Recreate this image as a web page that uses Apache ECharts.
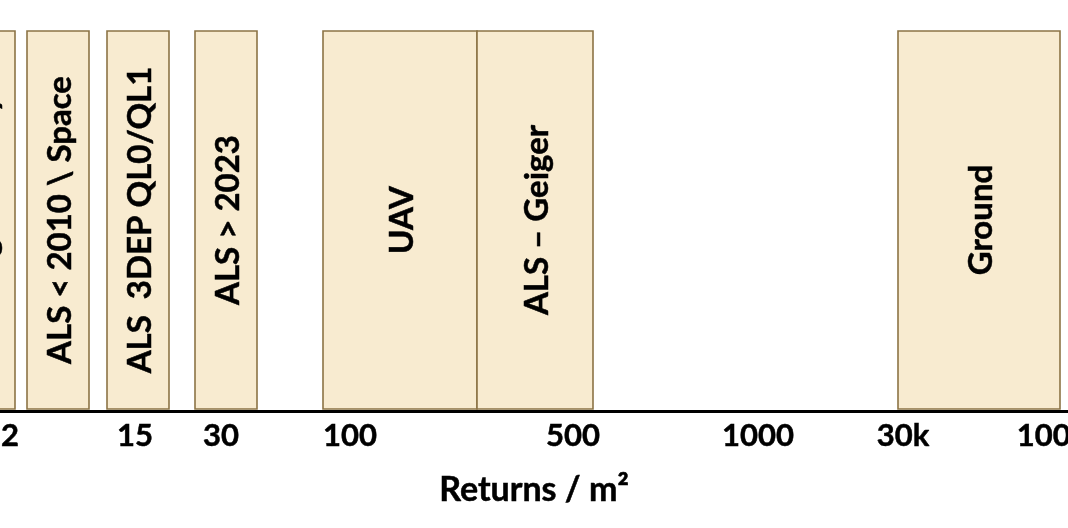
<!DOCTYPE html>
<html>
<head>
<meta charset="utf-8">
<script src="https://cdn.jsdelivr.net/npm/echarts@6/dist/echarts.min.js"></script>
<style>html,body{margin:0;padding:0;background:#fff}#c{width:1068px;height:528px}</style>
</head>
<body>
<div id="c"></div>
<script>
// Diagram positions along the (non-linear) returns-per-m² axis, in diagram units
const tickPositions = [10, 135, 221, 350, 573, 758, 903, 1052];
const tickLabels = ['2', '15', '30', '100', '500', '1000', '30k', '100k'];
const boxNames = ['Photogrammetry', 'ALS < 2010 \\ Space', 'ALS  3DEP QL0/QL1', 'ALS > 2023', 'UAV', 'ALS \u2013 Geiger', 'Ground'];
const boxStarts = [-47, 27, 107, 195, 323, 477, 898];
const boxEnds = [15, 89, 169, 257, 477, 593, 1060];

const FONT = 'Lato, "Open Sans", sans-serif';
const chart = echarts.init(document.getElementById('c'), null, {renderer: 'canvas'});
const data = boxNames.map((n, i) => [boxStarts[i], boxEnds[i], i]);

chart.setOption({
  backgroundColor: '#ffffff',
  animation: false,
  grid: {left: 0, right: 0, top: 30, bottom: 117, containLabel: false, outerBoundsMode: 'none'},
  xAxis: {
    type: 'value', min: 0, max: 1068,
    splitLine: {show: false},
    axisLine: {show: true, lineStyle: {color: '#000', width: 3}},
    axisTick: {show: false},
    axisLabel: {
      customValues: tickPositions,
      formatter: v => { const i = tickPositions.indexOf(v); return i >= 0 ? tickLabels[i] : ''; },
      color: '#000', fontFamily: FONT, fontWeight: 'bold', fontSize: 31, margin: 9,
      textBorderColor: '#000', textBorderWidth: 0.5,
      showMinLabel: true, showMaxLabel: true, hideOverlap: false
    },
    name: 'Returns / m\u00B2', nameLocation: 'middle', nameGap: 62,
    nameTextStyle: {color: '#000', fontFamily: FONT, fontWeight: 'bold', fontSize: 34,
                    textBorderColor: '#000', textBorderWidth: 0.5}
  },
  yAxis: {type: 'value', min: 0, max: 1, show: false},
  series: [{
    type: 'custom',
    clip: true,
    data: data,
    encode: {x: [0, 1]},
    renderItem: function (params, api) {
      const s = api.value(0), e = api.value(1), idx = api.value(2);
      const p0 = api.coord([s, 1]);
      const p1 = api.coord([e, 0]);
      const x = p0[0], y = p0[1] + 1, w = p1[0] - p0[0], h = p1[1] - p0[1] - 3;
      return {
        type: 'group',
        children: [
          {type: 'rect', shape: {x: x, y: y, width: w, height: h},
           style: {fill: '#F8EBD0', stroke: '#8C7445', lineWidth: 1.6}},
          {type: 'text', x: x + w / 2 + 2, y: y + h / 2, rotation: Math.PI / 2,
           style: {text: boxNames[idx], fill: '#000', font: 'bold 33px ' + FONT,
                   stroke: '#000', lineWidth: 0.5,
                   align: 'center', verticalAlign: 'middle'}}
        ]
      };
    }
  }]
});
</script>
</body>
</html>
